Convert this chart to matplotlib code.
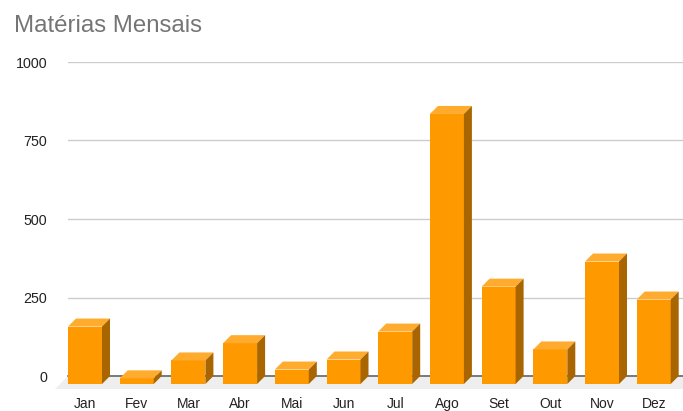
import matplotlib
matplotlib.use('Agg')
import matplotlib.pyplot as plt
from matplotlib.patches import Polygon

plt.rcParams['font.family'] = ['Liberation Sans', 'DejaVu Sans']

meses = ['Jan', 'Fev', 'Mar', 'Abr', 'Mai', 'Jun', 'Jul', 'Ago', 'Set', 'Out', 'Nov', 'Dez']
materias = [183, 18, 75, 130, 46, 78, 167, 860, 310, 110, 390, 269]
yticks = [0, 250, 500, 750, 1000]

W, H = 683, 411
fig = plt.figure(figsize=(W / 100, H / 100), dpi=100)
ax = fig.add_axes([68 / W, 1 - 376 / H, (W - 68) / W, (376 - 62) / H])

# escala: 51.7 px por categoria, 0.314 px por unidade
passo = 51.7
ax.set_xlim((68 - 85) / passo, (W - 85) / passo)
ax.set_ylim(0, 1000)

largura = 34 / passo
dx = 8 / passo
dy = 8 / 0.314

for s in ax.spines.values():
    s.set_visible(False)
ax.set_yticks(yticks)
ax.set_xticks(range(len(meses)))
ax.set_xticklabels(meses, fontsize=10, color='#222222')
ax.tick_params(axis='x', length=0, pad=15)
ax.tick_params(axis='y', length=0, pad=15, labelsize=10.3, labelcolor='#222222')
ax.grid(axis='y', color='#cccccc', lw=1, zorder=1)
ax.set_axisbelow(True)

# chao cinza
x0, x1 = ax.get_xlim()
ax.add_patch(Polygon([(x0, 0), (x1, 0), (x1, -dy - 16), (x0 - dx * 1.6, -dy - 16)],
                     closed=True, fc='#eeeeee', ec='none', zorder=1.5, clip_on=False))
ax.axhline(0, color='#666666', lw=1.2, zorder=2, clip_on=False)

for i, v in enumerate(materias):
    esq = i - largura / 2
    dir_ = i + largura / 2
    base = -dy
    topo = v - dy
    ax.bar(i, v, width=largura, bottom=base, color='#ff9900', zorder=3, clip_on=False)
    ax.add_patch(Polygon([(esq, topo), (dir_, topo), (dir_ + dx, topo + dy), (esq + dx, topo + dy)],
                         closed=True, fc='#ffab2e', ec='none', zorder=3, clip_on=False))
    ax.add_patch(Polygon([(dir_, base), (dir_ + dx, base + dy), (dir_ + dx, topo + dy), (dir_, topo)],
                         closed=True, fc='#a86500', ec='none', zorder=3, clip_on=False))

fig.text(14 / W, 1 - 26 / H, 'Matérias Mensais', fontsize=17.3, color='#757575',
         ha='left', va='center')

fig.savefig('out.png', dpi=100)
